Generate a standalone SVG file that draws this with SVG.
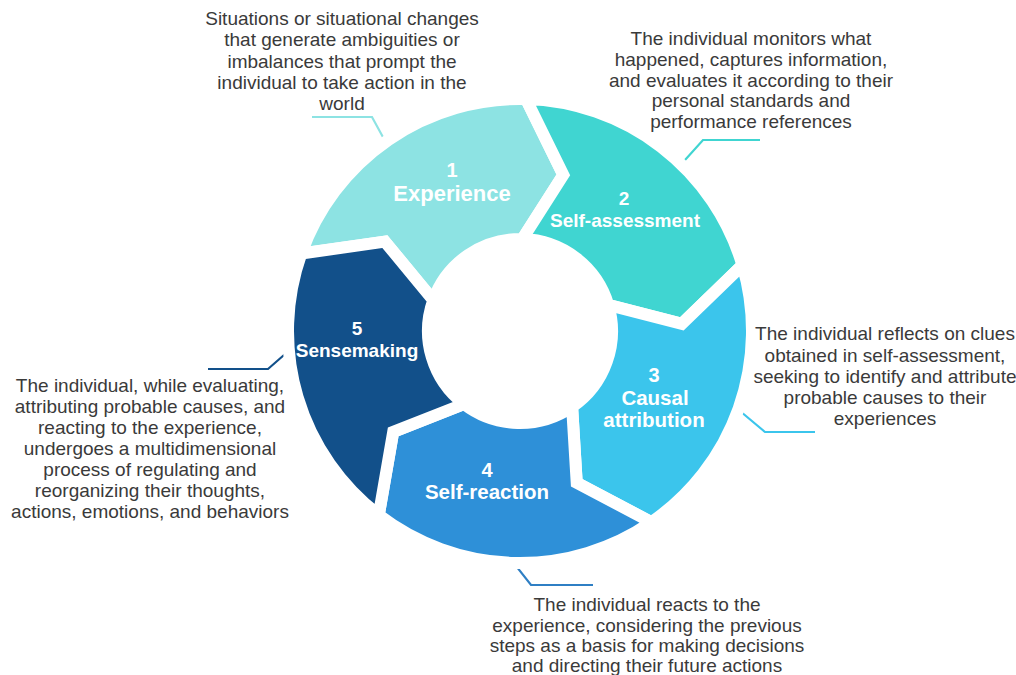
<svg xmlns="http://www.w3.org/2000/svg" width="1016" height="675" viewBox="0 0 1016 675">
<style>
.seg{stroke:#ffffff;stroke-width:12;stroke-linejoin:miter;stroke-miterlimit:10}
.lbl{font-family:"Liberation Sans",Arial,sans-serif;font-weight:bold;fill:#ffffff;text-anchor:middle}
.note{font-family:"Liberation Sans",Arial,sans-serif;font-size:19px;fill:#3a3a3a;text-anchor:middle}
.lead{fill:none;stroke-width:2.2}
</style>
<rect width="1016" height="675" fill="#ffffff"/>
<g id="connectors">
<polyline class="lead" stroke="#8de3e3" points="312,117 372,117 390,150"/>
<polyline class="lead" stroke="#40d5d1" points="760,140 703,140 676,170"/>
<polyline class="lead" stroke="#3bc5ec" points="734,406 765,432 815,432"/>
<polyline class="lead" stroke="#2f7fc4" points="505,552 531,585 593,585"/>
<polyline class="lead" stroke="#12508a" points="208,369 268,369 300,341"/>
</g>
<g id="node1">
<path class="seg" fill="#8de3e3" d="M301.31,253.56 A232,232 0 0 1 526.07,99.08 L563.29,174.89 L522.41,239.03 A92,92 0 0 0 433.28,300.29 L384.91,241.59 Z"/>
<text class="lbl" x="452" y="177" font-size="20">1</text>
<text class="lbl" x="452" y="201" font-size="22">Experience</text>
<text class="note" x="342"><tspan x="342" y="25">Situations or situational changes</tspan><tspan x="342" y="46">that generate ambiguities or</tspan><tspan x="342" y="68">imbalances that prompt the</tspan><tspan x="342" y="89">individual to take action in the</tspan><tspan x="342" y="110">world</tspan></text>
</g>
<g id="node2">
<path class="seg" fill="#40d5d1" d="M526.07,99.08 A232,232 0 0 1 742.45,265.11 L681.85,323.93 L608.21,304.87 A92,92 0 0 0 522.41,239.03 L563.29,174.89 Z"/>
<text class="lbl" x="624" y="205" font-size="19">2</text>
<text class="lbl" x="625" y="227" font-size="19">Self-assessment</text>
<text class="note"><tspan x="751" y="45">The individual monitors what</tspan><tspan x="751" y="66">happened, captures information,</tspan><tspan x="751" y="87">and evaluates it according to their</tspan><tspan x="751" y="107">personal standards and</tspan><tspan x="751" y="128">performance references</tspan></text>
</g>
<g id="node3">
<path class="seg" fill="#3bc5ec" d="M742.45,265.11 A232,232 0 0 1 651.41,522.20 L576.73,482.74 L572.11,406.82 A92,92 0 0 0 608.21,304.87 L681.85,323.93 Z"/>
<text class="lbl" x="654" y="382" font-size="20">3</text>
<text class="lbl" x="655" y="405" font-size="20.5">Causal</text>
<text class="lbl" x="654" y="427" font-size="20.5">attribution</text>
<text class="note"><tspan x="885" y="340">The individual reflects on clues</tspan><tspan x="885" y="362">obtained in self-assessment,</tspan><tspan x="885" y="383">seeking to identify and attribute</tspan><tspan x="885" y="404">probable causes to their</tspan><tspan x="885" y="425">experiences</tspan></text>
</g>
<g id="node4">
<path class="seg" fill="#2e90d8" d="M651.41,522.20 A232,232 0 0 1 378.77,515.06 L393.22,431.85 L463.99,403.99 A92,92 0 0 0 572.11,406.82 L576.73,482.74 Z"/>
<text class="lbl" x="487" y="477" font-size="20">4</text>
<text class="lbl" x="487" y="499" font-size="20.5">Self-reaction</text>
<text class="note"><tspan x="647" y="611">The individual reacts to the</tspan><tspan x="647" y="632">experience, considering the previous</tspan><tspan x="647" y="652">steps as a basis for making decisions</tspan><tspan x="647" y="672">and directing their future actions</tspan></text>
</g>
<g id="node5">
<path class="seg" fill="#12508a" d="M378.77,515.06 A232,232 0 0 1 301.31,253.56 L384.91,241.59 L433.28,300.29 A92,92 0 0 0 463.99,403.99 L393.22,431.85 Z"/>
<text class="lbl" x="357" y="335" font-size="19">5</text>
<text class="lbl" x="357" y="357" font-size="19">Sensemaking</text>
<text class="note"><tspan x="150" y="392">The individual, while evaluating,</tspan><tspan x="150" y="413">attributing probable causes, and</tspan><tspan x="150" y="434">reacting to the experience,</tspan><tspan x="150" y="455">undergoes a multidimensional</tspan><tspan x="150" y="476">process of regulating and</tspan><tspan x="150" y="497">reorganizing their thoughts,</tspan><tspan x="150" y="518">actions, emotions, and behaviors</tspan></text>
</g>
</svg>
